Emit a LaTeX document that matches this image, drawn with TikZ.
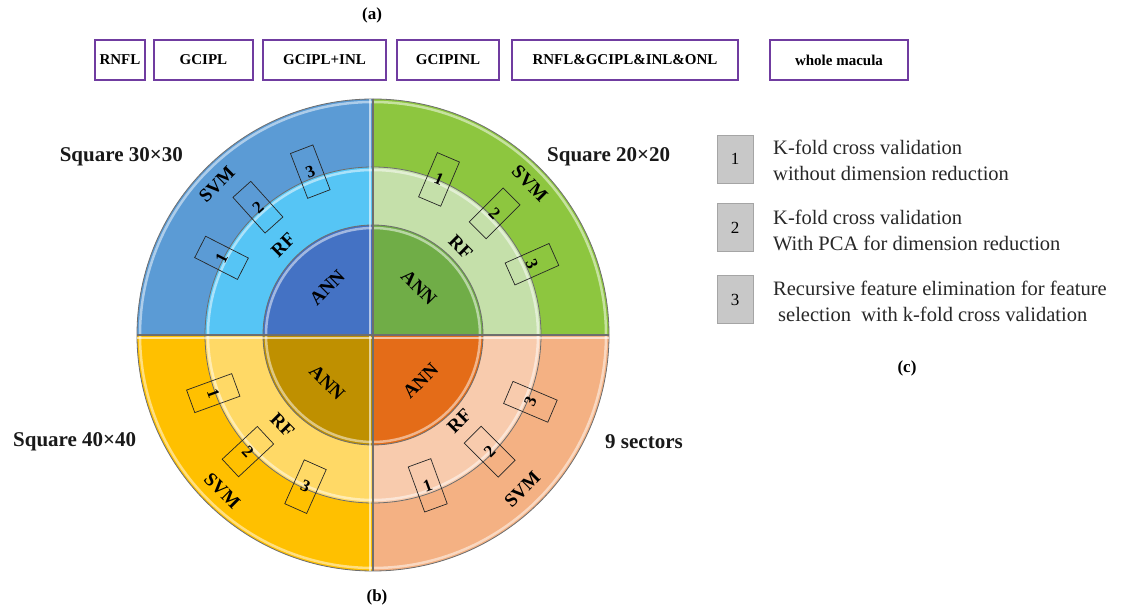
\documentclass[tikz,border=0pt]{standalone}
\usepackage{fontspec}
\setmainfont{Liberation Serif}
\usetikzlibrary{calc}
\definecolor{boxpurple}{RGB}{112,60,160}
\definecolor{tlO}{RGB}{91,155,213}
\definecolor{tlM}{RGB}{86,197,245}
\definecolor{tlI}{RGB}{68,114,196}
\definecolor{trO}{RGB}{141,198,63}
\definecolor{trM}{RGB}{197,224,170}
\definecolor{trI}{RGB}{112,173,71}
\definecolor{blO}{RGB}{255,192,0}
\definecolor{blM}{RGB}{255,217,102}
\definecolor{blI}{RGB}{191,144,0}
\definecolor{brO}{RGB}{244,177,131}
\definecolor{brM}{RGB}{248,203,173}
\definecolor{brI}{RGB}{228,108,24}
\definecolor{edge}{RGB}{110,110,110}
\definecolor{leggray}{RGB}{200,200,200}
\definecolor{legborder}{RGB}{165,165,165}
\definecolor{txt}{RGB}{40,40,40}
\begin{document}
\begin{tikzpicture}[x=1pt,y=1pt,
  topbox/.style={draw=boxpurple, line width=1.6pt, fill=white, minimum height=40pt, inner sep=0pt, font=\fontsize{15}{17}\selectfont\bfseries},
  ringlabel/.style={font=\fontsize{19}{21}\selectfont\bfseries, inner sep=0pt},
  numbox/.style={draw=black!85, line width=0.7pt, minimum width=24pt, minimum height=48pt, inner sep=0pt, font=\fontsize{17}{19}\selectfont\bfseries},
  legbox/.style={draw=legborder, fill=leggray, minimum width=36pt, minimum height=48pt, inner sep=0pt, font=\fontsize{17}{19}\selectfont},
  legtext/.style={anchor=west, align=left, inner sep=0pt, text=txt, font=\fontsize{20.5}{26}\selectfont},
  sqlabel/.style={font=\fontsize{21}{24}\selectfont\bfseries, inner sep=0pt, text=black!90},
  panel/.style={font=\fontsize{17}{19}\selectfont\bfseries, inner sep=0pt},
  hl/.style={white, opacity=0.5, line width=2.5pt},
  rim/.style={edge, line width=0.8pt}
]
\useasboundingbox (0,0) rectangle (1138,610);
\fill[white] (0,0) rectangle (1138,610);

% ---- (a) top boxes ----
\node[panel] (pa) at (372,595) {(a)};
\node[topbox, minimum width=50pt]  (l1) at (120,550) {RNFL};
\node[topbox, minimum width=99pt]  (l2) at (203.5,550) {GCIPL};
\node[topbox, minimum width=123pt] (l3) at (324.5,550) {GCIPL+INL};
\node[topbox, minimum width=102pt] (l4) at (448,550) {GCIPINL};
\node[topbox, minimum width=226pt] (l5) at (625,550) {RNFL\&GCIPL\&INL\&ONL};
\node[topbox, minimum width=138pt] (l6) at (839,550) {whole macula};

% ---- (b) circle ----
\coordinate (C) at (373,275);
\foreach \s/\o/\m/\i in {90/tlO/tlM/tlI, 0/trO/trM/trI, 180/blO/blM/blI, 270/brO/brM/brI}{
  \fill[\o] (C) -- ++(\s:236) arc[start angle=\s, end angle=\s+90, radius=236pt] -- cycle;
  \fill[\m] (C) -- ++(\s:168) arc[start angle=\s, end angle=\s+90, radius=168pt] -- cycle;
  \fill[\i] (C) -- ++(\s:110) arc[start angle=\s, end angle=\s+90, radius=110pt] -- cycle;
}
% bevel highlights
\foreach \r in {233,165,107}{
  \draw[hl] ($(C)+(0:\r)$) arc[start angle=0, end angle=360, radius=\r pt];
}
% rims
\foreach \r in {236,168,110}{
  \draw[rim] ($(C)+(0:\r)$) arc[start angle=0, end angle=360, radius=\r pt];
}
\coordinate (Ct) at ($(C)+(0,236)$);
\coordinate (Cb) at ($(C)+(0,-236)$);
\coordinate (Cl) at ($(C)+(-236,0)$);
\coordinate (Cr) at ($(C)+(236,0)$);
\draw[white, opacity=0.6, line width=2pt] ($(Ct)+(-3,0)$) -- ($(Cb)+(-3,0)$);
\draw[white, opacity=0.6, line width=2pt] ($(Cl)+(0,-3)$) -- ($(Cr)+(0,-3)$);
\draw[edge, line width=1.3pt] (Ct) -- (Cb);
\draw[edge, line width=1.3pt] (Cl) -- (Cr);

% ring labels
\node[ringlabel, rotate=45]  (svm1) at ($(C)+(136:217)$) {SVM};
\node[ringlabel, rotate=-45] (svm2) at ($(C)+(44:218)$) {SVM};
\node[ringlabel, rotate=-45] (svm3) at ($(C)+(226:217)$) {SVM};
\node[ringlabel, rotate=45]  (svm4) at ($(C)+(314:215)$) {SVM};
\node[ringlabel, rotate=45]  (rf1) at ($(C)+(135:127)$) {RF};
\node[ringlabel, rotate=-45] (rf2) at ($(C)+(45:124)$) {RF};
\node[ringlabel, rotate=-45] (rf3) at ($(C)+(225:128)$) {RF};
\node[ringlabel, rotate=45]  (rf4) at ($(C)+(315:122)$) {RF};
\node[ringlabel, rotate=45]  (ann1) at ($(C)+(134:66)$) {ANN};
\node[ringlabel, rotate=-45] (ann2) at ($(C)+(46:66)$) {ANN};
\node[ringlabel, rotate=-45] (ann3) at ($(C)+(226:66)$) {ANN};
\node[ringlabel, rotate=45]  (ann4) at ($(C)+(316:66)$) {ANN};

% method boxes
\node[numbox, rotate=63]  (tl1) at ($(C)+(153:170)$) {1};
\node[numbox, rotate=42]  (tl2) at ($(C)+(132:172)$) {2};
\node[numbox, rotate=21]  (tl3) at ($(C)+(111:175)$) {3};
\node[numbox, rotate=-23] (tr1) at ($(C)+(67:169)$) {1};
\node[numbox, rotate=-45] (tr2) at ($(C)+(45:172)$) {2};
\node[numbox, rotate=-66] (tr3) at ($(C)+(24:174)$) {3};
\node[numbox, rotate=-70] (bl1) at ($(C)+(200:170)$) {1};
\node[numbox, rotate=-47] (bl2) at ($(C)+(223:171)$) {2};
\node[numbox, rotate=-24] (bl3) at ($(C)+(246:166)$) {3};
\node[numbox, rotate=20]  (br1) at ($(C)+(290:160)$) {1};
\node[numbox, rotate=45]  (br2) at ($(C)+(315:165)$) {2};
\node[numbox, rotate=67]  (br3) at ($(C)+(337:171)$) {3};

% quadrant labels
\node[sqlabel, anchor=east] (q1) at (183,453) {Square 30×30};
\node[sqlabel, anchor=west] (q2) at (547,453) {Square 20×20};
\node[sqlabel, anchor=west] (q3) at (13,168) {Square 40×40};
\node[sqlabel, anchor=west] (q4) at (605,168) {9 sectors};
\node[panel] (pb) at (377,13) {(b)};

% ---- (c) legend ----
\node[legbox] (g1) at (735,451) {1};
\node[legbox] (g2) at (735,382.5) {2};
\node[legbox] (g3) at (735,310.5) {3};
\node[legtext] (t1) at (773,450) {K-fold cross validation\\without dimension reduction};
\node[legtext] (t2) at (773,380) {K-fold cross validation\\With PCA for dimension reduction};
\node[legtext] (t3) at (773,308.5) {Recursive feature elimination for feature\\\hspace*{5pt}selection\ \ with k-fold cross validation};
\node[panel] (pc) at (907,242) {(c)};
\end{tikzpicture}
\end{document}
